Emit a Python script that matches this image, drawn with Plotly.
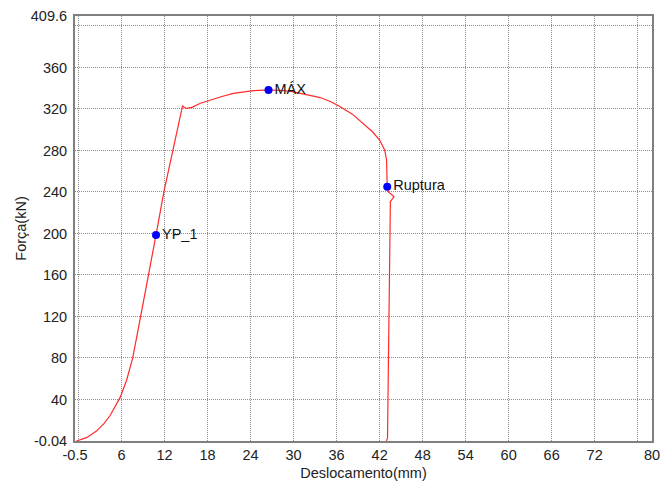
import plotly.graph_objects as go

# Curve data (displacement mm, force kN)
desloc = [-0.3, 1.1, 2.5, 3.5, 4.4, 5.2, 5.8, 6.7, 7.55, 8.3, 9.5, 10.8, 11.9, 13.2, 14.5,
          15.0, 15.8, 17.0, 18.3, 20.0, 21.6, 24.4, 26.5, 28.5, 30.0, 31.8, 33.7, 35.2,
          36.5, 38.2, 39.7, 41.0, 42.0, 42.7, 42.97, 43.02, 43.06, 43.2, 44.0, 43.5,
          43.45, 43.36, 43.3, 43.25, 43.2, 43.1, 42.96]
forca = [0.0, 3.2, 9.5, 16.5, 24.5, 34.0, 42.0, 58.5, 80.0, 107.0, 150.0, 198.5, 240.0, 280.5, 322.9,
         320.5, 321.5, 325.5, 328.6, 332.0, 335.0, 337.6, 338.3, 337.8, 336.5, 334.0, 331.0, 327.0,
         322.2, 315.0, 306.0, 298.0, 290.0, 280.5, 270.8, 255.0, 245.1, 240.3, 235.5, 230.7,
         200.0, 174.4, 120.0, 78.0, 30.0, 3.0, 0.0]

# Marked points
pt_x = [10.8, 26.5, 43.06]
pt_y = [198.5, 338.3, 245.1]
pt_labels = ["YP_1", "MÁX", "Ruptura"]

# Axis ticks
x_tickvals = [-0.5, 6, 12, 18, 24, 30, 36, 42, 48, 54, 60, 66, 72, 80]
x_ticktext = ["-0.5", "6", "12", "18", "24", "30", "36", "42", "48", "54", "60", "66", "72", "80"]
y_tickvals = [-0.04, 40, 80, 120, 160, 200, 240, 280, 320, 360, 409.6]
y_ticktext = ["-0.04", "40", "80", "120", "160", "200", "240", "280", "320", "360", "409.6"]
x_range = [-0.5, 80]
y_range = [-0.04, 409.6]

font_family = "Liberation Sans, Arial, sans-serif"

fig = go.Figure()
fig.add_trace(go.Scatter(x=desloc, y=forca, mode="lines",
                         line=dict(color="#ff2a2a", width=1.2), hoverinfo="skip"))
fig.add_trace(go.Scatter(x=pt_x, y=pt_y, mode="markers+text", text=pt_labels,
                         textposition="middle right",
                         textfont=dict(family=font_family, size=14.5, color="#111"),
                         marker=dict(color="#0000ff", size=8)))

grid = dict(showgrid=True, gridcolor="#8c8c8c", griddash="1px,1px", gridwidth=1)

# page body has an 8px default margin; size the figure to fit the window
fig.update_layout(
    width=661, height=481,
    margin=dict(l=67, r=17, t=8, b=48),
    paper_bgcolor="white", plot_bgcolor="white",
    showlegend=False,
    font=dict(family=font_family, size=14.5, color="#222"),
    xaxis=dict(range=x_range, tickmode="array", tickvals=x_tickvals, ticktext=x_ticktext,
               showgrid=False, zeroline=False, showline=True, linecolor="#808080",
               linewidth=2, mirror=True, ticks="", automargin=False,
               minor=dict(tick0=0, dtick=6, ticks="", **grid),
               title=dict(text="Deslocamento(mm)", font=dict(size=14.5), standoff=5)),
    yaxis=dict(range=y_range, tickmode="array", tickvals=y_tickvals, ticktext=y_ticktext,
               showgrid=False, zeroline=False, showline=True, linecolor="#808080",
               linewidth=2, mirror=True, ticks="", automargin=False,
               ticklabelstandoff=3,
               minor=dict(tick0=0, dtick=40, ticks="", **grid),
               title=dict(text="Força(kN)", font=dict(size=14.5), standoff=1)),
)

fig.write_html("out.html")
